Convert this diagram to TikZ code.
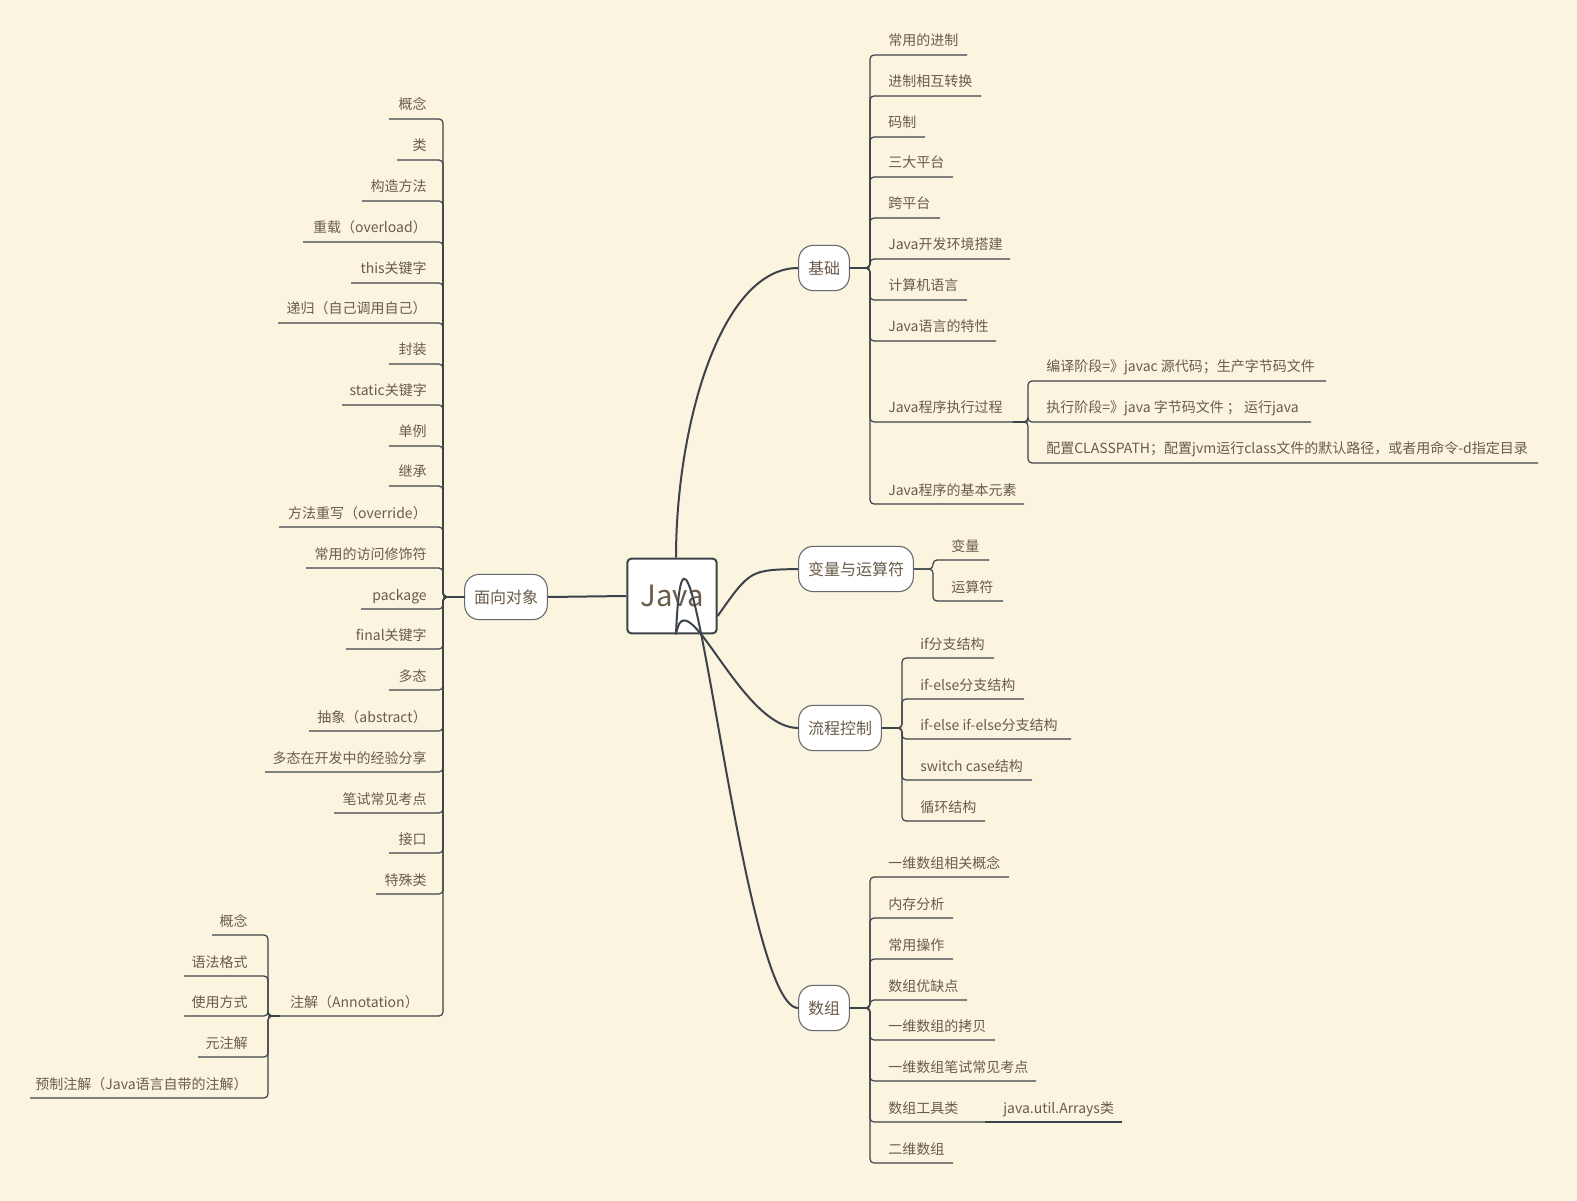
\documentclass[tikz,border=0pt]{standalone}
\usepackage{fontspec}
\setmainfont{Noto Sans CJK SC}
\begin{document}
\definecolor{bgc}{HTML}{FBF4DE}
\definecolor{linec}{HTML}{3C434B}
\definecolor{textc}{HTML}{6B5B4A}
\begin{tikzpicture}[x=0.75pt,y=-0.75pt,
  ln/.style={draw=linec,line width=0.9pt,rounded corners=3pt},
  cv/.style={draw=linec,line width=1.5pt},
  lt/.style={text=textc,font=\fontsize{10.5}{12}\selectfont,inner sep=0pt},
  br/.style={draw=linec!80,fill=white,rounded corners=11pt,line width=0.8pt,text=textc,font=\fontsize{12}{14}\selectfont,minimum height=34pt,inner xsep=7pt}]
\useasboundingbox (0,0) rectangle (1577,1201);
\fill[bgc] (0,0) rectangle (1577,1201);
\node[draw=linec,fill=white,rounded corners=3pt,line width=1.5pt,minimum width=67pt,minimum height=56pt,text=textc,font=\fontsize{22}{26}\selectfont] (java) at (672,596) {Java};
\node[br] (jc) at (824,268) {基础};
\node[br] (bl) at (856,569) {变量与运算符};
\node[br] (lc) at (840,728) {流程控制};
\node[br] (sz) at (824,1008) {数组};
\node[br] (mx) at (506,597) {面向对象};
\draw[cv] ([xshift=3pt]java.north) .. controls +(0,-130) and (720,268) .. (jc.west);
\draw[cv] ([yshift=-15pt]java.east) .. controls (750,570) .. (bl.west);
\draw[cv] ([xshift=3pt]java.south) .. controls +(10,-60) and (740,728) .. (lc.west);
\draw[cv] ([xshift=3pt]java.south) .. controls +(10,-240) and (740,1008) .. (sz.west);
\draw[cv] (java.west) -- (mx.east);
% 基础
\foreach \y/\e/\t [count=\i] in {41/967/常用的进制,82/981/进制相互转换,123/925/码制,163/953/三大平台,204/940/跨平台,245/1010/Java开发环境搭建,286/967/计算机语言,327/996/Java语言的特性,408/1028/Java程序执行过程,490/1024/Java程序的基本元素}{
  \draw[ln] (jc.east) -- (870,268) |- (\e,\y+14);
  \node[lt,anchor=base west] (a\i) at (888,\y+5) {\t};}
\foreach \y/\e/\t [count=\i] in {367/1326/{编译阶段=》javac 源代码；生产字节码文件},408/1311/{执行阶段=》java 字节码文件 ； 运行java},449/1538/{配置CLASSPATH；配置jvm运行class文件的默认路径，或者用命令-d指定目录}}{
  \draw[ln] (a9.base east) ++(10,9) -- (1028,422) |- (\e,\y+14);
  \node[lt,anchor=base west] (e\i) at (1046,\y+5) {\t};}
% 变量
\foreach \y/\e/\t [count=\i] in {546/989/变量,587/1003/运算符}{
  \draw[ln] (bl.east) -- (933,569) |- (\e,\y+14);
  \node[lt,anchor=base west] (b\i) at (951,\y+5) {\t};}
% 流程
\foreach \y/\e/\t [count=\i] in {644/994/if分支结构,685/1024/if-else分支结构,725/1071/if-else if-else分支结构,766/1032/switch case结构,807/985/循环结构}{
  \draw[ln] (lc.east) -- (902,728) |- (\e,\y+14);
  \node[lt,anchor=base west] (c\i) at (920,\y+5) {\t};}
% 数组
\foreach \y/\e/\t [count=\i] in {863/1009/一维数组相关概念,904/953/内存分析,945/953/常用操作,986/967/数组优缺点,1026/995/一维数组的拷贝,1067/1036/一维数组笔试常见考点,1108/985/数组工具类,1149/953/二维数组}{
  \draw[ln] (sz.east) -- (870,1008) |- (\e,\y+14);
  \node[lt,anchor=base west] (d\i) at (888,\y+5) {\t};}
\node[lt,anchor=base west] (d9) at (1003,1113) {java.util.Arrays类};
\draw[ln] (985,1122) -- (1122,1122);
% 面向对象
\foreach \y/\e/\t [count=\i] in {105/389/概念,146/397/类,187/362/构造方法,228/303/{重载（overload）},269/351/this关键字,309/278/{递归（自己调用自己）},350/389/封装,391/342/static关键字,432/389/单例,472/389/继承,513/279/{方法重写（override）},554/306/常用的访问修饰符,595/361/package,635/346/final关键字,676/389/多态,717/309/{抽象（abstract）},758/265/多态在开发中的经验分享,799/334/笔试常见考点,839/389/接口,880/376/特殊类}{
  \draw[ln] (mx.west) -- (443,597) |- (\e,\y+14);
  \node[lt,anchor=base east] (f\i) at (427,\y+5) {\t};}
\draw[ln] (mx.west) -- (443,597) |- (268,1016);
\node[lt,anchor=base east] (f21) at (419,1007) {注解（Annotation）};
\foreach \y/\e/\t [count=\i] in {921/212/概念,962/184/语法格式,1002/184/使用方式,1043/198/元注解,1084/30/{预制注解（Java语言自带的注解）}}{
  \draw[ln] (f21.base west) ++(-10,9) -- (268,1016) |- (\e,\y+14);
  \node[lt,anchor=base east] (g\i) at (248,\y+5) {\t};}
\end{tikzpicture}
\end{document}
